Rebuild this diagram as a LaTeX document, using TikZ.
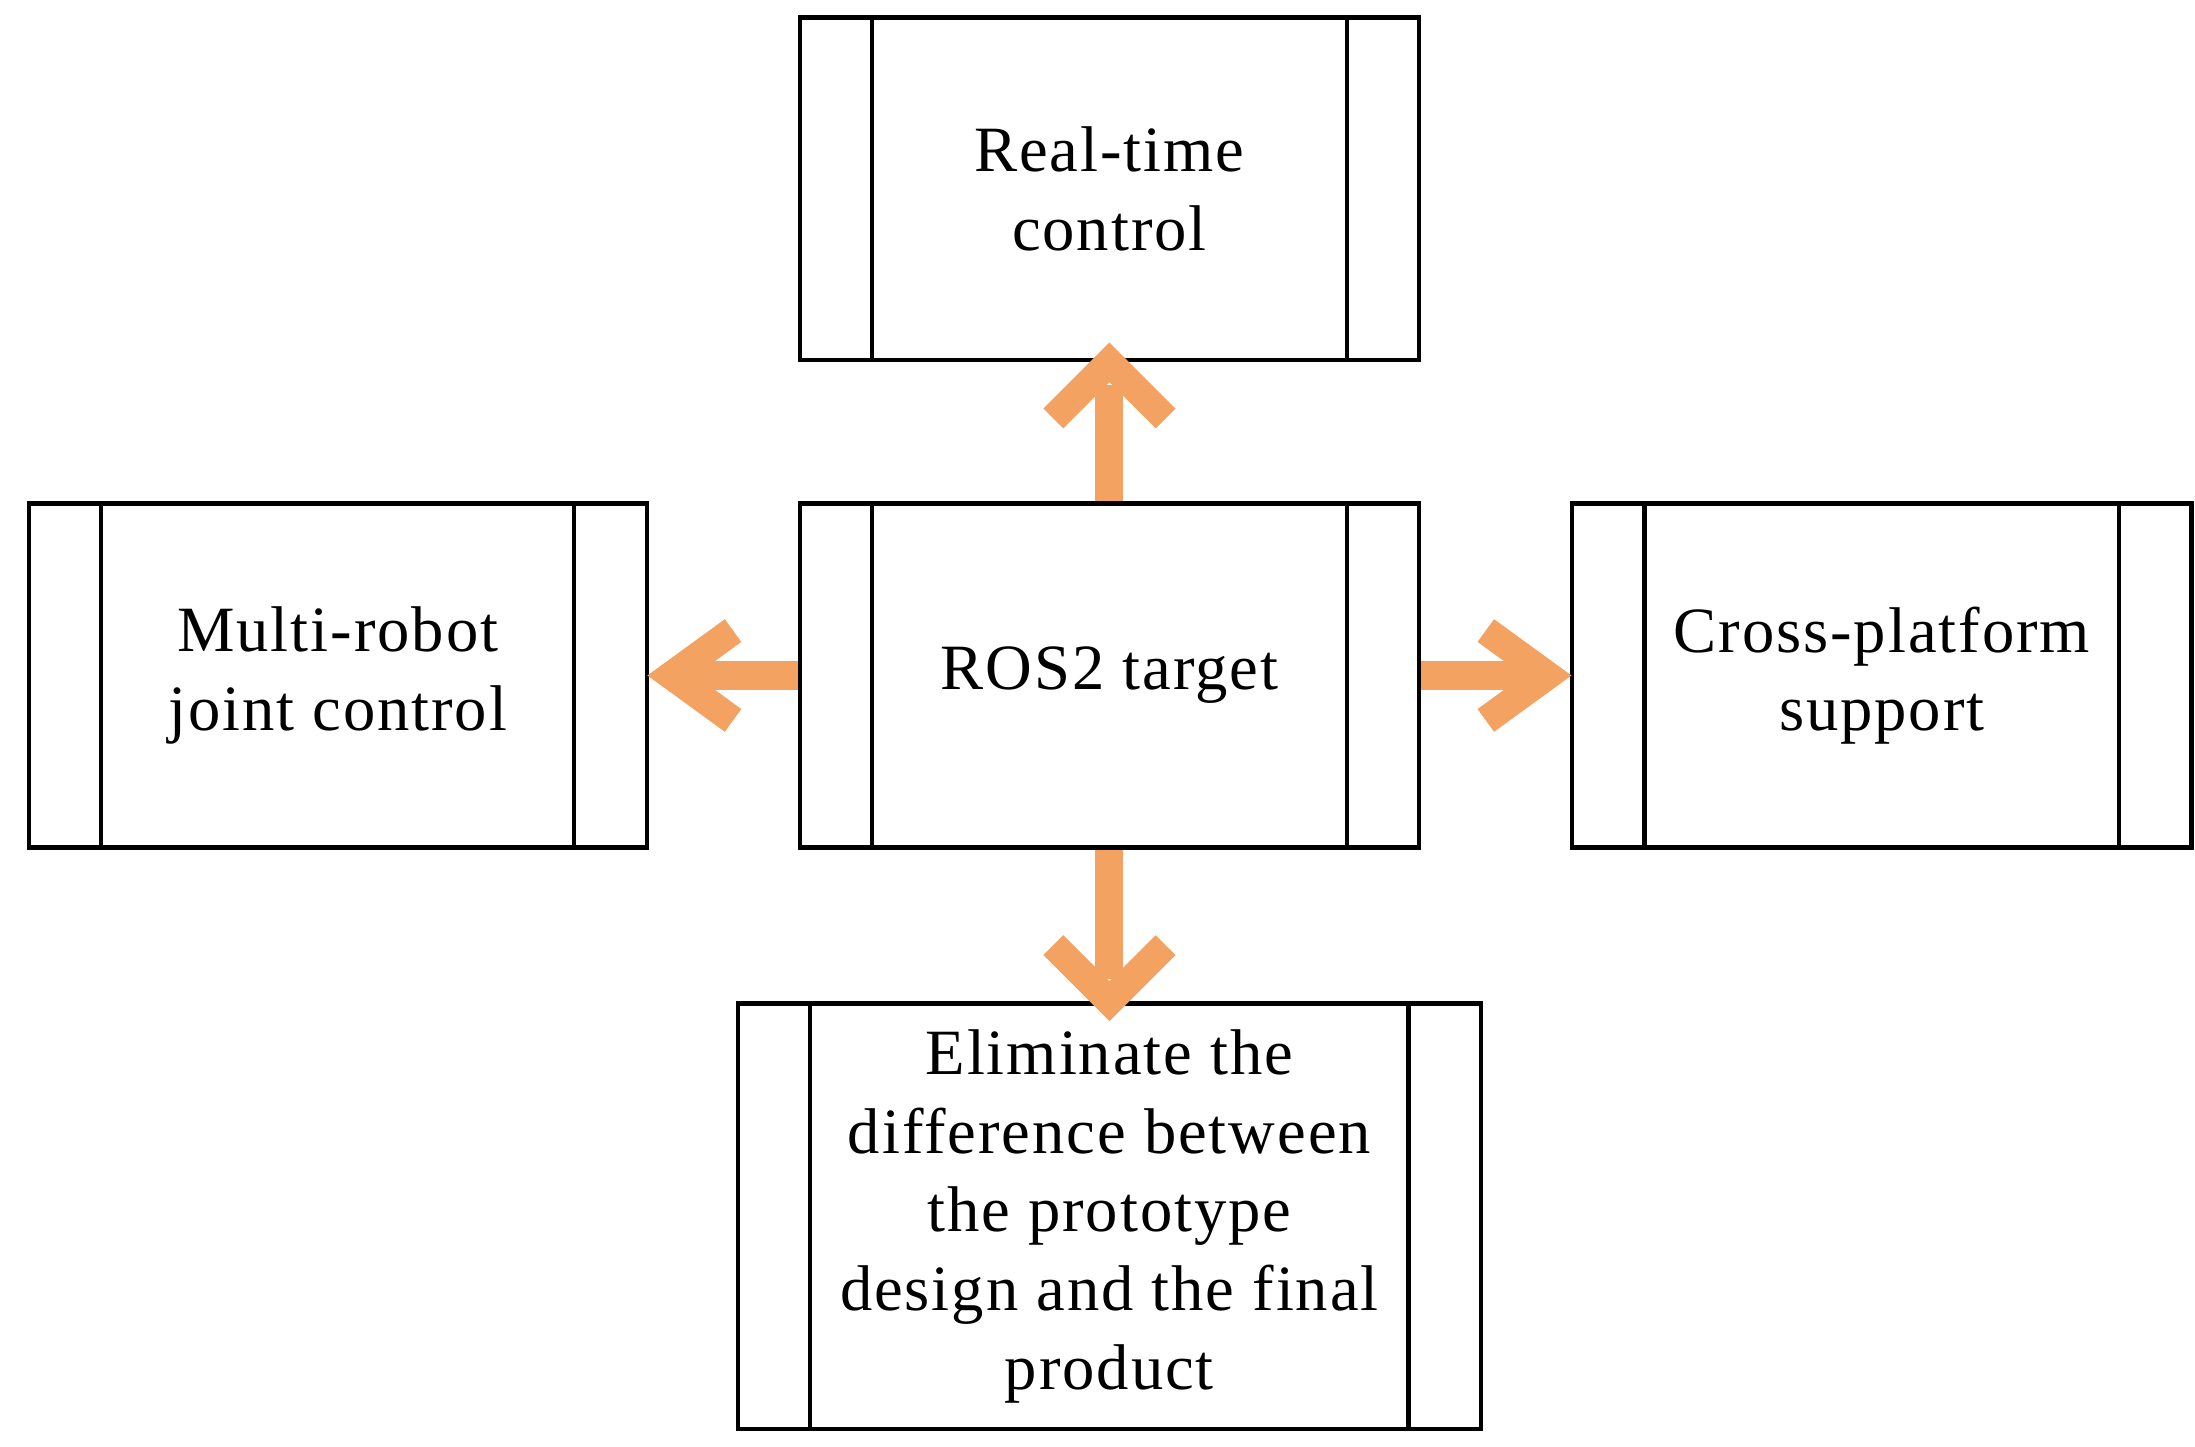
\documentclass[tikz,border=0pt]{standalone}
\usepackage{fontspec}
\setmainfont{Liberation Serif}[LetterSpace=3]
\begin{document}
\begin{tikzpicture}[x=0.5pt,y=0.5pt,
 box/.style={draw,line width=1.5pt,minimum width=#1,inner sep=0pt,align=center,font=\fontsize{23}{28}\selectfont},
 arr/.style={line width=10pt,color={rgb,255:red,244;green,162;blue,97},line join=miter}]
\useasboundingbox (0,0) rectangle (1563,1030);
\node[box=220.5pt,minimum height=122pt] (t) at (790,895.5) {Real-time\\control};
\node[box=220.5pt,minimum height=122.5pt] (c) at (790,549) {ROS2 target};
\node[box=220pt,minimum height=122.5pt] (l) at (240.5,549) {Multi-robot\\joint control};
\node[box=220.5pt,minimum height=122.5pt] (r) at (1340,549) {Cross-platform\\support};
\node[box=264.5pt,minimum height=151.5pt] (b) at (790,164) {Eliminate the\\difference between\\the prototype\\design and the final\\product};
\foreach \n in {t,c,l,r,b}{
 \draw[line width=1.5pt] ([xshift=26.5pt]\n.north west) -- ([xshift=26.5pt]\n.south west);
 \draw[line width=1.5pt] ([xshift=-26.5pt]\n.north east) -- ([xshift=-26.5pt]\n.south east);
}
% up
\draw[arr] (c.north) -- ([yshift=-8]t.south);
\draw[arr] ([shift={(-40,-40)}]t.south) -- ([yshift=0]t.south) -- ([shift={(40,-40)}]t.south);
% down
\draw[arr] (c.south) -- ([yshift=8]b.north);
\draw[arr] ([shift={(-40,40)}]b.north) -- ([yshift=0]b.north) -- ([shift={(40,40)}]b.north);
% left
\draw[arr] (c.west) -- ([xshift=16]l.east);
\draw[arr] ([shift={(60,-32)}]l.east) -- ([xshift=8]l.east) -- ([shift={(60,32)}]l.east);
% right
\draw[arr] (c.east) -- ([xshift=-16]r.west);
\draw[arr] ([shift={(-60,-32)}]r.west) -- ([xshift=-8]r.west) -- ([shift={(-60,32)}]r.west);
\end{tikzpicture}
\end{document}
